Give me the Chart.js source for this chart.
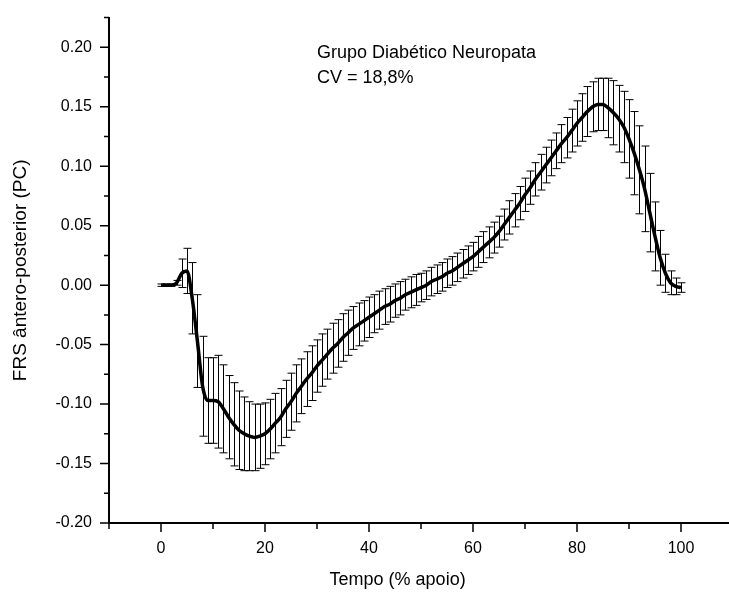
<!DOCTYPE html>
<html>
<head>
<meta charset="utf-8">
<script src="https://cdn.jsdelivr.net/npm/chart.js@4.4.1/dist/chart.umd.min.js"></script>
<style>
  html, body { margin: 0; padding: 0; background: #fff; overflow: hidden; }
</style>
</head>
<body>
<canvas id="chart" width="740" height="600"></canvas>
<script>
// % of stance phase
const tempo = [];
for (let i = 0; i <= 100; i++) tempo.push(i);

// mean anterior-posterior GRF (PC)
const meanFrs = [
  0.000, 0.000, 0.000, 0.002, 0.010, 0.012, -0.011, -0.047, -0.085, -0.097,
  -0.097, -0.098, -0.104, -0.111, -0.117, -0.122, -0.125, -0.127, -0.128, -0.127,
  -0.125, -0.121, -0.116, -0.111, -0.104, -0.098, -0.091, -0.085, -0.079, -0.074,
  -0.068, -0.063, -0.058, -0.053, -0.049, -0.044, -0.040, -0.036, -0.033, -0.030,
  -0.027, -0.024, -0.021, -0.018, -0.016, -0.013, -0.011, -0.008, -0.006, -0.004,
  -0.002, 0.000, 0.003, 0.005, 0.007, 0.010, 0.012, 0.015, 0.018, 0.021,
  0.024, 0.028, 0.032, 0.036, 0.040, 0.045, 0.051, 0.057, 0.063, 0.069,
  0.076, 0.082, 0.089, 0.095, 0.101, 0.107, 0.113, 0.119, 0.124, 0.130,
  0.136, 0.141, 0.146, 0.150, 0.152, 0.152, 0.149, 0.145, 0.140, 0.133,
  0.123, 0.111, 0.097, 0.081, 0.061, 0.041, 0.023, 0.010, 0.002, -0.001,
  -0.002
];

// standard deviation
const sdFrs = [
  0.001, 0.001, 0.001, 0.002, 0.012, 0.019, 0.030, 0.039, 0.042, 0.036,
  0.036, 0.039, 0.037, 0.035, 0.035, 0.033, 0.031, 0.029, 0.028, 0.027,
  0.026, 0.025, 0.025, 0.024, 0.024, 0.024, 0.024, 0.023, 0.023, 0.023,
  0.022, 0.022, 0.021, 0.021, 0.020, 0.020, 0.019, 0.018, 0.018, 0.017,
  0.017, 0.016, 0.016, 0.015, 0.015, 0.014, 0.014, 0.013, 0.013, 0.013,
  0.012, 0.012, 0.012, 0.012, 0.012, 0.012, 0.012, 0.012, 0.012, 0.012,
  0.012, 0.013, 0.013, 0.013, 0.013, 0.013, 0.013, 0.014, 0.014, 0.014,
  0.014, 0.014, 0.014, 0.015, 0.015, 0.015, 0.015, 0.016, 0.017, 0.018,
  0.019, 0.020, 0.021, 0.021, 0.022, 0.022, 0.025, 0.027, 0.028, 0.030,
  0.033, 0.035, 0.037, 0.036, 0.033, 0.029, 0.023, 0.016, 0.010, 0.007,
  0.004
];

const xTicks = [-10, 0, 10, 20, 30, 40, 50, 60, 70, 80, 90, 100, 110];
const xLabels = [0, 20, 40, 60, 80, 100];
const yTicks = [-0.2, -0.175, -0.15, -0.125, -0.1, -0.075, -0.05, -0.025, 0,
  0.025, 0.05, 0.075, 0.1, 0.125, 0.15, 0.175, 0.2, 0.225];
const annotation = ["Grupo Diabético Neuropata", "CV = 18,8%"];
const xTitle = "Tempo (% apoio)";

const FONT = "'Liberation Sans', Arial, sans-serif";

const isYLabel = v => Math.abs(Math.round(v * 20) - v * 20) < 1e-6 && v <= 0.2001;

// error bars under the mean curve
const errorBars = {
  id: "errorBars",
  beforeDatasetsDraw(chart) {
    const { ctx, scales: { x, y } } = chart;
    ctx.save();
    ctx.strokeStyle = "#000";
    ctx.lineWidth = 1;
    for (let i = 0; i < tempo.length; i++) {
      const px = Math.round(x.getPixelForValue(tempo[i])) + 0.5;
      const top = y.getPixelForValue(meanFrs[i] + sdFrs[i]);
      const bot = y.getPixelForValue(meanFrs[i] - sdFrs[i]);
      ctx.beginPath();
      ctx.moveTo(px, top); ctx.lineTo(px, bot);
      ctx.moveTo(px - 4, top); ctx.lineTo(px + 4, top);
      ctx.moveTo(px - 4, bot); ctx.lineTo(px + 4, bot);
      ctx.stroke();
    }
    ctx.restore();
  }
};

// major / minor tick marks pointing outward, plus the texts
const tickMarks = {
  id: "tickMarks",
  afterDraw(chart) {
    const { ctx, scales: { x, y } } = chart;
    ctx.save();
    ctx.strokeStyle = "#000";
    ctx.lineWidth = 1.5;
    ctx.beginPath();
    xTicks.forEach(v => {
      const px = x.getPixelForValue(v);
      const len = xLabels.includes(v) ? 9 : 6;
      ctx.moveTo(px, y.bottom); ctx.lineTo(px, y.bottom + len);
    });
    yTicks.forEach(v => {
      const py = y.getPixelForValue(v);
      const len = isYLabel(v) ? 9 : 5;
      ctx.moveTo(x.left, py); ctx.lineTo(x.left - len, py);
    });
    ctx.stroke();

    ctx.fillStyle = "#000";
    ctx.font = "18px " + FONT;
    ctx.textAlign = "left";
    ctx.textBaseline = "alphabetic";
    const ax = x.getPixelForValue(30);
    const ay = y.getPixelForValue(0.2);
    ctx.fillText(annotation[0], ax, ay + 11);
    ctx.fillText(annotation[1], ax, ay + 36);

    // x axis title (centred like the original, left of the canvas centre)
    ctx.textAlign = "center";
    ctx.textBaseline = "middle";
    ctx.fillText(xTitle, x.getPixelForValue(45.5), 580);
    ctx.restore();
  }
};

new Chart(document.getElementById("chart"), {
  type: "line",
  data: {
    datasets: [{
      data: tempo.map((t, i) => ({ x: t, y: meanFrs[i] })),
      borderColor: "#000",
      borderWidth: 3.5,
      pointRadius: 0,
      cubicInterpolationMode: "monotone",
      fill: false
    }]
  },
  options: {
    responsive: false,
    animation: false,
    layout: { padding: { top: 14, right: 6, bottom: 0, left: 0 } },
    plugins: { legend: { display: false }, tooltip: { enabled: false } },
    scales: {
      x: {
        type: "linear",
        min: -10,
        max: 110,
        afterBuildTicks: s => { s.ticks = xTicks.map(v => ({ value: v })); },
        afterFit: s => { s.height = 77; },
        grid: { drawOnChartArea: false, drawTicks: true, tickLength: 9, tickColor: "rgba(0,0,0,0)" },
        border: { display: true, color: "#000", width: 2 },
        ticks: {
          autoSkip: false,
          maxRotation: 0,
          padding: 7,
          color: "#000",
          font: { family: FONT, size: 16 },
          callback: v => (xLabels.includes(v) ? String(v) : "")
        },
        title: { display: false }
      },
      y: {
        min: -0.2,
        max: 0.225,
        afterBuildTicks: s => { s.ticks = yTicks.map(v => ({ value: v })); },
        afterFit: s => { s.width = 109; },
        grid: { drawOnChartArea: false, drawTicks: true, tickLength: 9, tickColor: "rgba(0,0,0,0)" },
        border: { display: true, color: "#000", width: 2 },
        ticks: {
          autoSkip: false,
          padding: 8,
          color: "#000",
          font: { family: FONT, size: 16 },
          callback: v => (isYLabel(v) ? v.toFixed(2) : "")
        },
        title: {
          display: true,
          text: "FRS ântero-posterior (PC)",
          color: "#000",
          font: { family: FONT, size: 19 },
          padding: { top: 9, bottom: 0 }
        }
      }
    }
  },
  plugins: [errorBars, tickMarks]
});
</script>
</body>
</html>
